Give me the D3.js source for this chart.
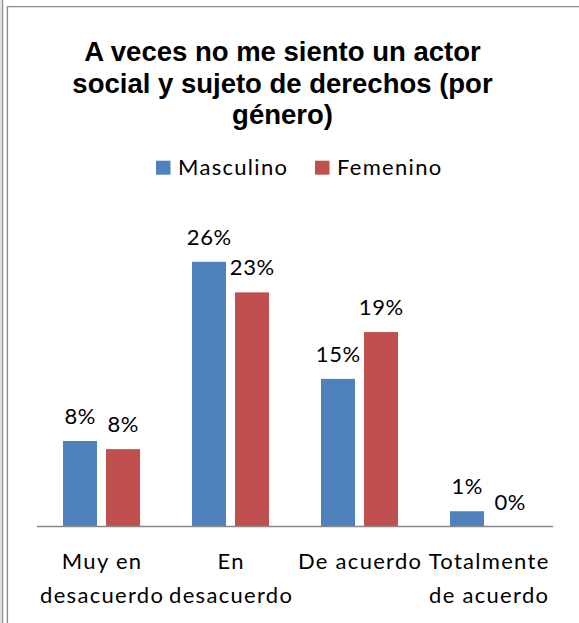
<!DOCTYPE html>
<html>
<head>
<meta charset="utf-8">
<script src="https://cdn.jsdelivr.net/npm/d3@7"></script>
<style>
  html, body { margin: 0; padding: 0; background: #fff; }
  svg { display: block; }
</style>
</head>
<body>
<script>
const categories = [["Muy en", "desacuerdo"], ["En", "desacuerdo"], ["De acuerdo"], ["Totalmente", "de acuerdo"]];
const seriesNames = ["Masculino", "Femenino"];
const masculino = [8.4, 26.0, 14.5, 1.5];
const femenino = [7.6, 23.0, 19.1, 0];
const masculinoLabels = ["8%", "26%", "15%", "1%"];
const femeninoLabels = ["8%", "23%", "19%", "0%"];
const titleLines = ["A veces no me siento un actor", "social y sujeto de derechos (por", "género)"];
const colors = ["#4F81BD", "#C0504D"];

const W = 579, H = 623;
const svg = d3.select("body").append("svg").attr("width", W).attr("height", H);

// frame lines
svg.append("line").attr("x1", 1).attr("x2", 1).attr("y1", 0).attr("y2", H).attr("stroke", "#c4c4c4").attr("stroke-width", 1);
svg.append("line").attr("x1", 2.6).attr("x2", 2.6).attr("y1", 0).attr("y2", H).attr("stroke", "#8c8c8c").attr("stroke-width", 1.2);
svg.append("path").attr("d", `M7.4,${H} V6.6 H${W}`).attr("fill", "none").attr("stroke", "#8c8c8c").attr("stroke-width", 1.4);

const font = "Lato, 'Open Sans', sans-serif";
const fs = 22;
const ls = 1.3;
const lsNum = 0.6;

// title
svg.append("g").selectAll("text").data(titleLines).join("text")
  .attr("x", 282.5).attr("y", (d, i) => 61 + i * 31.5)
  .attr("text-anchor", "middle")
  .attr("font-family", "'Liberation Sans', Arial, sans-serif")
  .attr("font-weight", "bold").attr("font-size", 27.5).attr("fill", "#000")
  .text(d => d);

// legend
const legendX = [156, 315];
const lg = svg.append("g").selectAll("g").data(seriesNames).join("g");
lg.append("rect").attr("x", (d, i) => legendX[i]).attr("y", 160.7).attr("width", 14.5).attr("height", 14)
  .attr("fill", (d, i) => colors[i]);
lg.append("text").attr("x", (d, i) => legendX[i] + 22).attr("y", 175)
  .attr("font-family", font).attr("font-size", fs).attr("letter-spacing", ls).attr("fill", "#000")
  .text(d => d);

// scales
const x0 = d3.scaleBand().domain(d3.range(categories.length)).range([37, 553]).paddingInner(0).paddingOuter(0);
const y = d3.scaleLinear().domain([0, 30]).range([526.5, 221.1]);
const barW = 34;
const offsets = [-21.5, 21.5];
const series = [masculino, femenino];
const labels = [masculinoLabels, femeninoLabels];

series.forEach((vals, s) => {
  const g = svg.append("g");
  g.selectAll("rect").data(vals).join("rect")
    .attr("x", (d, i) => x0(i) + x0.bandwidth() / 2 + offsets[s] - barW / 2)
    .attr("y", d => y(d))
    .attr("width", barW)
    .attr("height", d => y(0) - y(d))
    .attr("fill", colors[s]);
  g.selectAll("text").data(vals).join("text")
    .attr("x", (d, i) => x0(i) + x0.bandwidth() / 2 + offsets[s] + lsNum / 2)
    .attr("y", d => y(d) - 17)
    .attr("text-anchor", "middle")
    .attr("font-family", font).attr("font-size", fs).attr("letter-spacing", lsNum).attr("fill", "#000")
    .text((d, i) => labels[s][i]);
});

// axis line
svg.append("line").attr("x1", 37).attr("x2", 553).attr("y1", 526.5).attr("y2", 526.5)
  .attr("stroke", "#888").attr("stroke-width", 1.6);

// category labels
const cg = svg.append("g").selectAll("text").data(categories).join("text")
  .attr("x", (d, i) => x0(i) + x0.bandwidth() / 2 + ls / 2)
  .attr("y", 569)
  .attr("text-anchor", "middle")
  .attr("font-family", font).attr("font-size", fs).attr("letter-spacing", ls).attr("fill", "#000");
cg.selectAll("tspan").data(d => d).join("tspan")
  .attr("x", function() { return d3.select(this.parentNode).attr("x"); })
  .attr("dy", (d, i) => i === 0 ? 0 : 33.7)
  .text(d => d);
</script>
</body>
</html>
